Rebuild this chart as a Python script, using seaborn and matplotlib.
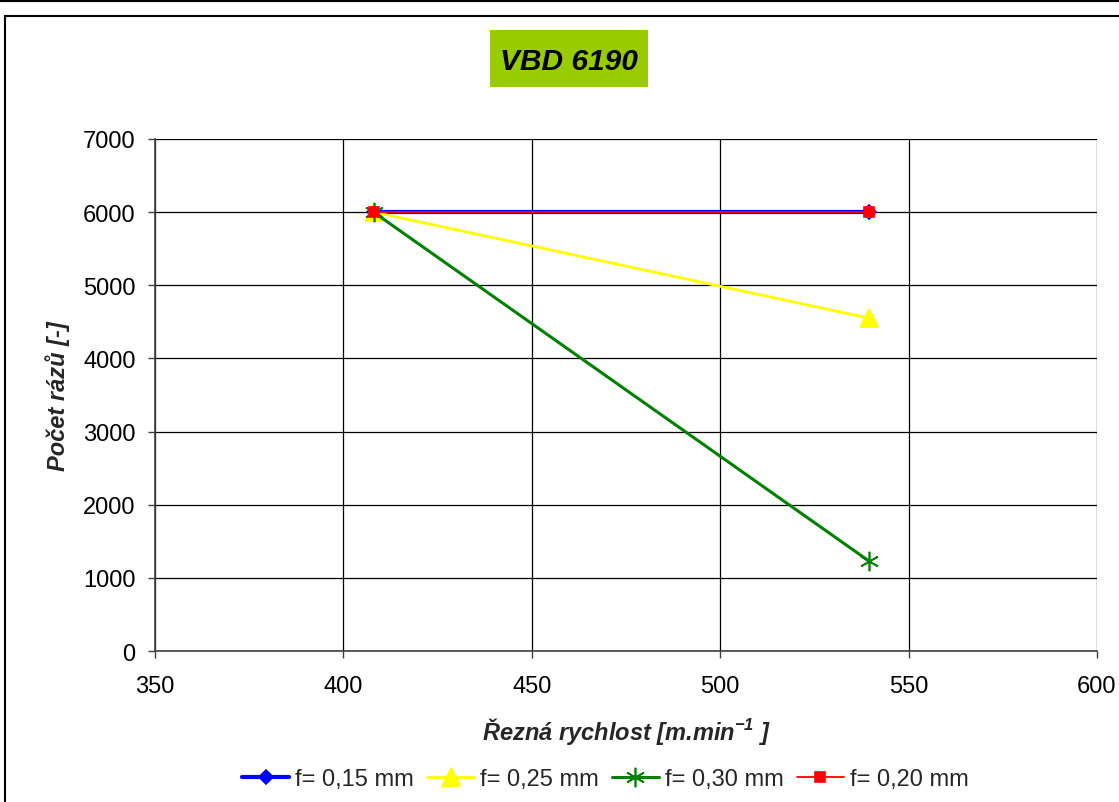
import matplotlib
matplotlib.use("Agg")
import matplotlib.pyplot as plt
from matplotlib.lines import Line2D
from matplotlib.patches import Rectangle
import pandas as pd
import seaborn as sns

# Measured cutting data for insert VBD 6190
speed = [408, 539.5]
series_names = ["f= 0,15 mm", "f= 0,25 mm", "f= 0,30 mm", "f= 0,20 mm"]
impacts_015 = [6000, 6000]
impacts_025 = [6000, 4550]
impacts_030 = [6000, 1230]
impacts_020 = [6000, 6000]

x_ticks = [350, 400, 450, 500, 550, 600]
y_ticks = [0, 1000, 2000, 3000, 4000, 5000, 6000, 7000]

sns.set_theme(style="white")
plt.rcParams["font.family"] = ["Liberation Sans", "DejaVu Sans"]
plt.rcParams["mathtext.fontset"] = "custom"
plt.rcParams["mathtext.rm"] = "Liberation Sans:bold:italic"
plt.rcParams["mathtext.it"] = "Liberation Sans:bold:italic"
plt.rcParams["mathtext.bf"] = "Liberation Sans:bold:italic"

df = pd.DataFrame({
    "speed": speed * 4,
    "impacts": impacts_015 + impacts_025 + impacts_030 + impacts_020,
    "feed": [n for n in series_names for _ in speed],
})

colors = {"f= 0,15 mm": "#0000FF", "f= 0,25 mm": "#FFFF00",
          "f= 0,30 mm": "#008000", "f= 0,20 mm": "#FF0000"}
markers = {"f= 0,15 mm": "D", "f= 0,25 mm": "^",
           "f= 0,30 mm": (6, 2, 0), "f= 0,20 mm": "s"}
msizes = {"f= 0,15 mm": 7, "f= 0,25 mm": 13, "f= 0,30 mm": 14, "f= 0,20 mm": 7}
lwidths = {"f= 0,15 mm": 3.0, "f= 0,25 mm": 2.0, "f= 0,30 mm": 2.2, "f= 0,20 mm": 1.3}

FS = 17

fig = plt.figure(figsize=(11.19, 8.03), dpi=100)
ax = fig.add_axes([0.1385, 0.188, 0.9803 - 0.1385, 0.8257 - 0.188])

for name in series_names:
    sub = df[df["feed"] == name]
    sns.lineplot(data=sub, x="speed", y="impacts", ax=ax, color=colors[name],
                 marker=markers[name], markersize=msizes[name],
                 markeredgecolor=colors[name], markeredgewidth=1.2,
                 linewidth=lwidths[name], label=name, zorder=3)

ax.set_xlim(350, 600)
ax.set_ylim(0, 7000)
ax.set_xticks(x_ticks)
ax.set_yticks(y_ticks)
ax.tick_params(axis="both", labelsize=FS, colors="#404040", labelcolor="black",
               length=5, width=1, direction="out", bottom=True, left=True)
ax.tick_params(axis="x", pad=12)
ax.tick_params(axis="y", pad=9)
ax.grid(True, color="black", linewidth=0.9)
ax.set_axisbelow(True)
for side in ["top", "right"]:
    ax.spines[side].set_visible(False)
for side in ["left", "bottom"]:
    ax.spines[side].set_color("#404040")
    ax.spines[side].set_linewidth(1.2)

ax.set_xlabel("Řezná rychlost [m.min$^{-1}$ ]", fontsize=FS,
              fontweight="bold", fontstyle="italic")
ax.xaxis.label.set_va("center")
ax.xaxis.set_label_coords(0.5, -0.156)
ax.set_ylabel("Počet rázů [-]", fontsize=FS, fontweight="bold",
              fontstyle="italic")
ax.yaxis.label.set_va("center")
ax.yaxis.set_label_coords(-0.103, 0.5)

handles, labels = ax.get_legend_handles_labels()
ax.legend(handles, labels, loc="center", bbox_to_anchor=(0.541, 0.0286),
          bbox_transform=fig.transFigure, ncol=4, frameon=False,
          fontsize=FS, handlelength=2.0, handletextpad=0.25,
          columnspacing=0.55, borderpad=0)

# Chart title in a green box
fig.add_artist(Rectangle((490 / 1119, 1 - 88 / 803), 158 / 1119, 57 / 803,
                         transform=fig.transFigure, facecolor="#99CC00",
                         edgecolor="none"))
fig.text(569 / 1119, 1 - 70 / 803, "VBD 6190", ha="center", va="baseline",
         fontsize=21.5, fontweight="bold", fontstyle="italic", color="black")

# Outer borders
fig.add_artist(Line2D([0, 1], [1 - 1.5 / 803, 1 - 1.5 / 803],
                      transform=fig.transFigure, color="black", linewidth=1.5))
fig.add_artist(Rectangle((4.5 / 1119, -0.01), 1.0, 1 - 16.5 / 803 + 0.01,
                         transform=fig.transFigure, fill=False,
                         edgecolor="black", linewidth=1.5))

fig.savefig("out.png", dpi=100)
